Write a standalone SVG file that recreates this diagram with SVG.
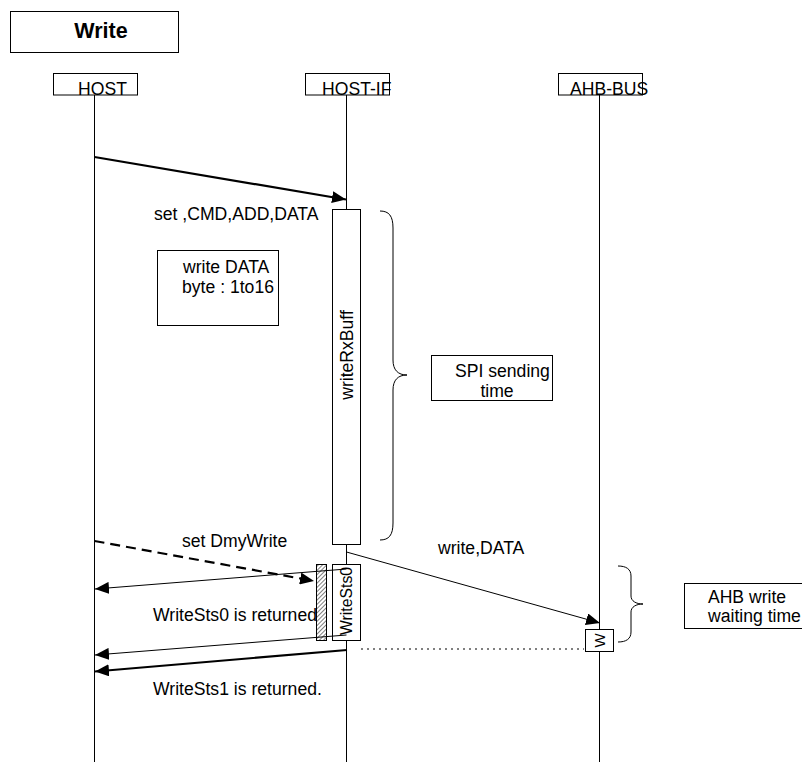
<svg xmlns="http://www.w3.org/2000/svg" width="802" height="762" viewBox="0 0 802 762">
<style>
text{font-family:"Liberation Sans",Arial,sans-serif;font-size:17.6px;fill:#000}
.box{fill:#fff;stroke:#000;stroke-width:1}
.life{stroke:#000;stroke-width:1;fill:none}
.thin{stroke:#000;stroke-width:1;fill:none}
.thick{stroke:#000;stroke-width:2.2;fill:none}
</style>
<defs>
<marker id="ah" viewBox="0 0 14 12" refX="14" refY="6" markerWidth="14" markerHeight="12" markerUnits="userSpaceOnUse" orient="auto">
<path d="M0,0 L14,6 L0,12 Z" fill="#000"/>
</marker>
<pattern id="hatch" patternUnits="userSpaceOnUse" width="3" height="3" patternTransform="rotate(45)">
<rect width="3" height="3" fill="#fff"/>
<line x1="0" y1="0" x2="0" y2="3" stroke="#000" stroke-width="1"/>
</pattern>
</defs>

<g id="title">
<rect class="box" x="10.5" y="11.5" width="168" height="41"/>
<text x="101" y="38" text-anchor="middle" style="font-size:21.5px;font-weight:bold">Write</text>
</g>

<g id="host">
<line class="life" x1="94.5" y1="95" x2="94.5" y2="762"/>
<rect class="box" x="53.5" y="73.5" width="84" height="21.5"/>
<text x="78" y="95">HOST</text>
</g>
<g id="hostif">
<line class="life" x1="346.5" y1="95" x2="346.5" y2="762"/>
<rect class="box" x="305.5" y="73.5" width="84" height="21.5"/>
<text x="322" y="95">HOST-IF</text>
</g>
<g id="ahbbus">
<line class="life" x1="599.5" y1="95" x2="599.5" y2="762"/>
<rect class="box" x="558.5" y="73.5" width="84" height="21.5"/>
<text x="570" y="95">AHB-BUS</text>
</g>

<g id="writeRxBuff">
<rect class="box" x="332.5" y="209.5" width="28" height="335"/>
<text transform="translate(353,355) rotate(-90)" text-anchor="middle">writeRxBuff</text>
</g>

<g id="hatched">
<rect x="316.5" y="564.5" width="10" height="76" fill="url(#hatch)" stroke="#000" stroke-width="1"/>
</g>

<g id="writeSts0">
<rect class="box" x="332.5" y="564.5" width="28" height="76"/>
<text transform="translate(352,601) rotate(-90)" text-anchor="middle" style="font-size:15.8px">WriteSts0</text>
</g>

<g id="wbox">
<rect class="box" x="585.5" y="629.5" width="28" height="22"/>
<text transform="translate(604.5,640.5) rotate(-90)" text-anchor="middle" style="font-size:15px">W</text>
</g>

<g id="writeDataNote">
<rect class="box" x="157.5" y="250.5" width="121" height="75"/>
<text x="183" y="273">write DATA</text>
<text x="182" y="293">byte : 1to16</text>
</g>

<g id="spiNote">
<rect class="box" x="431.5" y="355.5" width="121" height="45"/>
<text x="455" y="377">SPI sending</text>
<text x="497" y="397" text-anchor="middle">time</text>
</g>

<g id="ahbNote">
<rect class="box" x="684.5" y="583.5" width="130" height="45"/>
<text x="747" y="603" text-anchor="middle">AHB write</text>
<text x="708" y="622">waiting time</text>
</g>

<g id="braces">
<path class="thin" d="M380,211 C389,211 393,216 393,228 L393,360 C393,370 398,375 407,375 C398,375 393,380 393,390 L393,523 C393,535 389,540 380,540"/>
<path class="thin" d="M618,566 C626,566 631,569 631,576 L631,596 C631,601 636,604 643,604 C636,604 631,607 631,612 L631,632 C631,639 626,642 618,642"/>
</g>

<g id="connectors">
<line class="thick" x1="94.5" y1="157" x2="346" y2="199.5" marker-end="url(#ah)"/>
<path class="thick" d="M94.5,541 L314,581" stroke-dasharray="10,6" marker-end="url(#ah)"/>
<line class="thin" x1="346.5" y1="569" x2="95" y2="589" marker-end="url(#ah)"/>
<line class="thin" x1="346.5" y1="552" x2="600" y2="623" marker-end="url(#ah)"/>
<line class="thin" x1="346.5" y1="635" x2="95" y2="655" marker-end="url(#ah)"/>
<line class="thick" x1="347" y1="650" x2="95" y2="671.5" marker-end="url(#ah)"/>
<line class="thin" x1="361" y1="649" x2="584" y2="649" stroke-dasharray="2,4"/>
</g>

<g id="labels">
<text x="154" y="220">set ,CMD,ADD,DATA</text>
<text x="182" y="547">set DmyWrite</text>
<text x="438" y="554">write,DATA</text>
<text x="153" y="621">WriteSts0 is returned</text>
<text x="153" y="695">WriteSts1 is returned.</text>
</g>
</svg>
